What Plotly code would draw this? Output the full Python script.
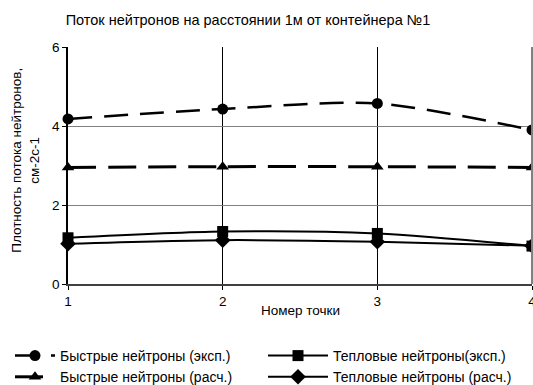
import plotly.graph_objects as go

points = [1, 2, 3, 4]
fast_exp = [4.18, 4.43, 4.57, 3.90]
fast_calc = [2.95, 2.97, 2.97, 2.95]
therm_exp = [1.17, 1.33, 1.28, 0.96]
therm_calc = [1.02, 1.11, 1.07, 0.97]

names = ["Быстрые нейтроны (эксп.)", "Тепловые нейтроны(эксп.)",
         "Быстрые нейтроны (расч.)", "Тепловые нейтроны (расч.)"]

FONT = "Liberation Sans, Arial, sans-serif"

fig = go.Figure()

def add(y, name, symbol, dash, width, msize, legend, group):
    fig.add_trace(go.Scatter(
        x=points, y=y, name=name, mode="lines+markers",
        line=dict(color="black", width=width, dash=dash, shape="spline", smoothing=0.8),
        marker=dict(symbol=symbol, size=msize, color="black"),
        cliponaxis=False, legend=legend, legendgroup=group,
    ))

add(fast_exp, names[0], "circle", "24px,12px", 2.5, 11, "legend", "a")
add(therm_exp, names[1], "square", "solid", 2, 11, "legend2", "b")
add(fast_calc, names[2], "triangle-up", "28px,12px", 3, 11, "legend", "c")
add(therm_calc, names[3], "diamond", "solid", 2, 12, "legend2", "d")

leg_common = dict(orientation="v", xref="container", yref="container",
                  xanchor="left", yanchor="top", font=dict(size=14),
                  tracegroupgap=0, bgcolor="rgba(0,0,0,0)")

fig.update_layout(
    width=533, height=385,
    margin=dict(l=68, r=1, t=47, b=101, autoexpand=False),
    paper_bgcolor="white", plot_bgcolor="white",
    font=dict(family=FONT, size=13.5, color="black"),
    title=dict(text="Поток нейтронов на расстоянии 1м от контейнера №1",
               x=248 / 533, xanchor="center", y=1 - 20 / 385, yanchor="middle",
               font=dict(size=14.5)),
    showlegend=True,
    legend=dict(x=10 / 533, y=1 - 340 / 385, itemwidth=40, **leg_common),
    legend2=dict(x=263 / 533, y=1 - 340 / 385, itemwidth=60, **leg_common),
    shapes=[dict(type="line", xref="paper", yref="paper", x0=1, x1=1, y0=0, y1=1,
                 line=dict(color="#808080", width=2))],
)

fig.update_xaxes(
    range=[1, 4], tickvals=points, ticktext=[str(p) for p in points],
    showgrid=True, gridcolor="black", gridwidth=1,
    showline=True, linecolor="#404040", linewidth=2,
    ticks="outside", ticklen=4, tickcolor="black",
    zeroline=False, tickfont=dict(size=13.5), ticklabeloverflow="allow",
)
fig.update_yaxes(
    range=[0, 6], tickvals=[0, 2, 4, 6],
    showgrid=True, gridcolor="#808080", gridwidth=1,
    showline=True, linecolor="black", linewidth=1.5,
    ticks="outside", ticklen=4, tickcolor="black",
    zeroline=False, tickfont=dict(size=13.5),
)

fig.add_annotation(text="Номер точки", xref="paper", yref="paper",
                   x=0.5, y=-26 / 237, showarrow=False,
                   xanchor="center", yanchor="middle", font=dict(size=13.5))
fig.add_annotation(text="Плотность потока нейтронов,<br>см-2с-1",
                   xref="paper", yref="paper", x=-42 / 464, y=0.52,
                   textangle=-90, showarrow=False,
                   xanchor="center", yanchor="middle", font=dict(size=13.5))

fig.write_html("out.html", config={"displayModeBar": False},
               post_script="document.body.style.margin='0';document.body.style.overflow='hidden';")
